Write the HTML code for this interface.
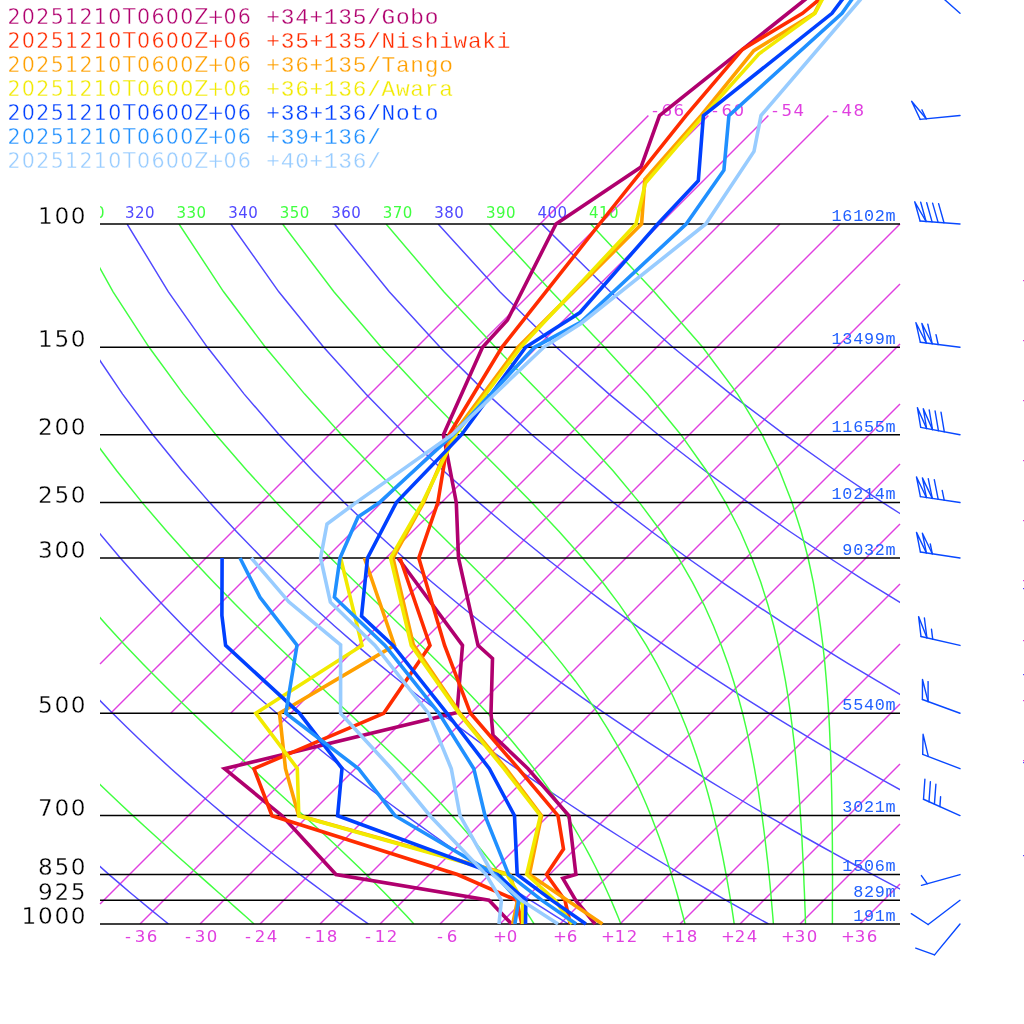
<!DOCTYPE html>
<html lang="en"><head><meta charset="utf-8"><title>Emagram</title>
<style>
html,body{margin:0;padding:0;background:#fff;}
body{width:1024px;height:1024px;overflow:hidden;}
svg{display:block;}
text{text-anchor:middle;}
.leg{font-family:"DejaVu Sans","Liberation Sans",sans-serif;font-size:20.6px;stroke:#fff;stroke-width:0.4px;}
.tl{font-family:"DejaVu Sans","Liberation Sans",sans-serif;font-size:16.6px;fill:#e040e0;}
.lg2{font-family:"Liberation Mono","DejaVu Sans Mono",monospace;font-size:22.8px;stroke:#fff;stroke-width:0.3px;}
.hl{font-family:"Liberation Mono","DejaVu Sans Mono",monospace;font-size:16.8px;fill:#2060ff;}
.pl{font-family:"DejaVu Sans","Liberation Sans",sans-serif;font-size:23.2px;fill:#000;stroke:#fff;stroke-width:0.35px;}
.th{font-family:"DejaVu Sans","Liberation Sans",sans-serif;font-size:15px;}
.bg{fill:none;stroke-width:1.45;}
.pr{fill:none;stroke-width:3.6;stroke-linejoin:miter;stroke-linecap:butt;}
.wb{fill:none;stroke:#0848ff;stroke-width:1.4;stroke-linejoin:round;stroke-linecap:round;}
</style></head><body>
<svg width="1024" height="1024" viewBox="0 0 1024 1024">
<defs><clipPath id="cp"><rect x="100" y="224" width="800" height="700"/></clipPath><clipPath id="cx"><rect x="100" y="0" width="800" height="1024"/></clipPath></defs>
<g class="bg" stroke="#e040e0">
<line x1="100.0" y1="904.0" x2="780.0" y2="224.0"/>
<line x1="140.0" y1="924.0" x2="840.0" y2="224.0"/>
<line x1="200.0" y1="924.0" x2="900.0" y2="224.0"/>
<line x1="260.0" y1="924.0" x2="900.0" y2="284.0"/>
<line x1="320.0" y1="924.0" x2="900.0" y2="344.0"/>
<line x1="380.0" y1="924.0" x2="900.0" y2="404.0"/>
<line x1="440.0" y1="924.0" x2="900.0" y2="464.0"/>
<line x1="500.0" y1="924.0" x2="900.0" y2="524.0"/>
<line x1="560.0" y1="924.0" x2="900.0" y2="584.0"/>
<line x1="620.0" y1="924.0" x2="900.0" y2="644.0"/>
<line x1="680.0" y1="924.0" x2="900.0" y2="704.0"/>
<line x1="740.0" y1="924.0" x2="900.0" y2="764.0"/>
<line x1="800.0" y1="924.0" x2="900.0" y2="824.0"/>
<line x1="860.0" y1="924.0" x2="900.0" y2="884.0"/>
<line x1="100.0" y1="664.0" x2="648.4" y2="115.6"/>
<line x1="110.7" y1="713.3" x2="708.4" y2="115.6"/>
<line x1="170.7" y1="713.3" x2="768.4" y2="115.6"/>
<line x1="230.7" y1="713.3" x2="828.4" y2="115.6"/>
</g>
<g class="bg" clip-path="url(#cp)">
<polyline stroke="#5048ff" points="-287.5,224.0 -273.6,291.8 -258.2,347.3 -242.2,394.1 -226.1,434.7 -210.1,470.5 -194.3,502.6 -178.7,531.5 -163.4,558.0 -148.4,582.3 -133.7,604.8 -119.3,625.8 -105.2,645.4 -91.4,663.9 -77.8,681.2 -64.6,697.7 -51.5,713.3 -38.8,728.1 -26.2,742.3 -13.9,755.8 -1.8,768.7 10.1,781.1 21.8,793.0 33.3,804.5 44.6,815.6 55.8,826.2 66.8,836.5 77.6,846.5 88.3,856.2 98.8,865.5 109.1,874.6 119.4,883.4 129.4,892.0 139.4,900.3 149.2,908.4 158.9,916.3 168.5,924.0"/>
<polyline stroke="#40ff40" points="-235.7,224.0 -218.3,291.8 -200.0,347.3 -181.4,394.1 -163.0,434.7 -144.8,470.5 -127.0,502.6 -109.5,531.5 -92.5,558.0 -75.9,582.3 -59.6,604.8 -43.8,625.8 -28.3,645.4 -13.1,663.9 1.7,681.2 16.1,697.7 30.3,713.3 44.1,728.1 57.7,742.3 70.9,755.8 83.9,768.7 96.5,781.1 108.9,793.0 121.0,804.5 132.9,815.6 144.5,826.2 155.8,836.5 166.8,846.5 177.6,856.2 188.1,865.5 198.3,874.6 208.2,883.4 217.9,892.0 227.4,900.3 236.5,908.4 245.5,916.3 254.1,924.0"/>
<polyline stroke="#5048ff" points="-183.9,224.0 -163.1,291.8 -141.8,347.3 -120.6,394.1 -99.8,434.7 -79.4,470.5 -59.6,502.6 -40.3,531.5 -21.6,558.0 -3.3,582.3 14.5,604.8 31.9,625.8 48.8,645.4 65.3,663.9 81.4,681.2 97.1,697.7 112.6,713.3 127.6,728.1 142.4,742.3 156.9,755.8 171.1,768.7 185.0,781.1 198.7,793.0 212.1,804.5 225.3,815.6 238.3,826.2 251.0,836.5 263.6,846.5 275.9,856.2 288.1,865.5 300.1,874.6 311.9,883.4 323.5,892.0 335.0,900.3 346.3,908.4 357.5,916.3 368.5,924.0"/>
<polyline stroke="#40ff40" points="-132.0,224.0 -107.8,291.8 -83.6,347.3 -59.8,394.1 -36.6,434.7 -14.1,470.5 7.7,502.6 28.8,531.5 49.3,558.0 69.2,582.3 88.5,604.8 107.2,625.8 125.3,645.4 143.0,663.9 160.1,681.2 176.7,697.7 192.8,713.3 208.4,728.1 223.5,742.3 238.1,755.8 252.2,768.7 265.8,781.1 278.9,793.0 291.5,804.5 303.6,815.6 315.3,826.2 326.4,836.5 337.1,846.5 347.3,856.2 357.0,865.5 366.3,874.6 375.2,883.4 383.7,892.0 391.8,900.3 399.5,908.4 406.9,916.3 413.9,924.0"/>
<polyline stroke="#5048ff" points="-80.2,224.0 -52.6,291.8 -25.4,347.3 1.0,394.1 26.6,434.7 51.2,470.5 75.0,502.6 98.0,531.5 120.3,558.0 141.8,582.3 162.7,604.8 183.0,625.8 202.7,645.4 221.9,663.9 240.6,681.2 258.9,697.7 276.7,713.3 294.0,728.1 311.0,742.3 327.7,755.8 343.9,768.7 359.9,781.1 375.5,793.0 390.9,804.5 405.9,815.6 420.7,826.2 435.2,836.5 449.5,846.5 463.6,856.2 477.4,865.5 491.0,874.6 504.4,883.4 517.6,892.0 530.6,900.3 543.4,908.4 556.0,916.3 568.5,924.0"/>
<polyline stroke="#40ff40" points="-28.4,224.0 2.6,291.8 32.8,347.3 61.8,394.1 89.7,434.7 116.5,470.5 142.2,502.6 167.0,531.5 190.8,558.0 213.7,582.3 235.7,604.8 256.8,625.8 277.0,645.4 296.4,663.9 314.8,681.2 332.4,697.7 349.1,713.3 364.8,728.1 379.7,742.3 393.7,755.8 406.9,768.7 419.3,781.1 430.9,793.0 441.8,804.5 451.9,815.6 461.4,826.2 470.3,836.5 478.6,846.5 486.4,856.2 493.8,865.5 500.6,874.6 507.1,883.4 513.1,892.0 518.8,900.3 524.2,908.4 529.3,916.3 534.1,924.0"/>
<polyline stroke="#5048ff" points="23.5,224.0 57.9,291.8 91.0,347.3 122.6,394.1 152.9,434.7 181.9,470.5 209.7,502.6 236.4,531.5 262.1,558.0 287.0,582.3 311.0,604.8 334.2,625.8 356.7,645.4 378.6,663.9 399.9,681.2 420.6,697.7 440.8,713.3 460.4,728.1 479.7,742.3 498.4,755.8 516.8,768.7 534.8,781.1 552.4,793.0 569.7,804.5 586.6,815.6 603.2,826.2 619.5,836.5 635.5,846.5 651.2,856.2 666.7,865.5 681.9,874.6 696.9,883.4 711.7,892.0 726.2,900.3 740.5,908.4 754.6,916.3 768.5,924.0"/>
<polyline stroke="#40ff40" points="75.3,224.0 113.1,291.8 149.1,347.3 183.4,394.1 215.9,434.7 246.9,470.5 276.3,502.6 304.2,531.5 330.6,558.0 355.5,582.3 378.9,604.8 400.8,625.8 421.1,645.4 439.9,663.9 457.2,681.2 473.1,697.7 487.6,713.3 500.9,728.1 513.0,742.3 524.0,755.8 534.1,768.7 543.3,781.1 551.7,793.0 559.5,804.5 566.6,815.6 573.1,826.2 579.2,836.5 584.8,846.5 590.0,856.2 594.8,865.5 599.3,874.6 603.5,883.4 607.4,892.0 611.1,900.3 614.5,908.4 617.8,916.3 620.9,924.0"/>
<polyline stroke="#5048ff" points="127.1,224.0 168.4,291.8 207.4,347.3 244.2,394.1 279.2,434.7 312.5,470.5 344.3,502.6 374.8,531.5 404.0,558.0 432.1,582.3 459.2,604.8 485.4,625.8 510.7,645.4 535.3,663.9 559.1,681.2 582.3,697.7 604.9,713.3 626.9,728.1 648.3,742.3 669.2,755.8 689.7,768.7 709.7,781.1 729.3,793.0 748.4,804.5 767.2,815.6 785.6,826.2 803.7,836.5 821.5,846.5 838.9,856.2 856.0,865.5 872.9,874.6 889.4,883.4 905.7,892.0 921.8,900.3 937.6,908.4 953.2,916.3 968.5,924.0"/>
<polyline stroke="#40ff40" points="179.0,224.0 223.6,291.8 265.4,347.3 304.7,394.1 341.5,434.7 375.9,470.5 407.9,502.6 437.3,531.5 464.2,558.0 488.5,582.3 510.3,604.8 529.7,625.8 546.9,645.4 562.1,663.9 575.5,681.2 587.4,697.7 597.9,713.3 607.2,728.1 615.6,742.3 623.1,755.8 629.8,768.7 635.8,781.1 641.3,793.0 646.3,804.5 650.9,815.6 655.0,826.2 658.9,836.5 662.4,846.5 665.7,856.2 668.7,865.5 671.5,874.6 674.1,883.4 676.6,892.0 678.9,900.3 681.0,908.4 683.1,916.3 685.0,924.0"/>
<polyline stroke="#5048ff" points="230.8,224.0 278.8,291.8 323.7,347.3 365.9,394.1 405.6,434.7 443.2,470.5 479.0,502.6 513.1,531.5 545.8,558.0 577.2,582.3 607.4,604.8 636.5,625.8 664.7,645.4 691.9,663.9 718.4,681.2 744.0,697.7 769.0,713.3 793.3,728.1 816.9,742.3 840.0,755.8 862.5,768.7 884.6,781.1 906.1,793.0 927.2,804.5 947.9,815.6 968.1,826.2 988.0,836.5 1007.4,846.5 1026.6,856.2 1045.3,865.5 1063.8,874.6 1082.0,883.4 1099.8,892.0 1117.4,900.3 1134.7,908.4 1151.7,916.3 1168.5,924.0"/>
<polyline stroke="#40ff40" points="282.6,224.0 333.9,291.8 381.3,347.3 424.9,394.1 464.6,434.7 500.3,470.5 531.8,502.6 559.1,531.5 582.6,558.0 602.6,582.3 619.6,604.8 634.0,625.8 646.3,645.4 656.8,663.9 665.8,681.2 673.7,697.7 680.5,713.3 686.5,728.1 691.8,742.3 696.5,755.8 700.7,768.7 704.4,781.1 707.8,793.0 710.9,804.5 713.6,815.6 716.2,826.2 718.5,836.5 720.6,846.5 722.6,856.2 724.4,865.5 726.1,874.6 727.7,883.4 729.2,892.0 730.6,900.3 731.9,908.4 733.1,916.3 734.2,924.0"/>
<polyline stroke="#5048ff" points="334.5,224.0 389.3,291.8 440.1,347.3 487.5,394.1 531.9,434.7 573.9,470.5 613.6,502.6 651.5,531.5 687.6,558.0 722.3,582.3 755.6,604.8 787.7,625.8 818.7,645.4 848.6,663.9 877.6,681.2 905.7,697.7 933.1,713.3 959.7,728.1 985.5,742.3 1010.8,755.8 1035.4,768.7 1059.5,781.1 1083.0,793.0 1106.0,804.5 1128.5,815.6 1150.6,826.2 1172.2,836.5 1193.4,846.5 1214.2,856.2 1234.7,865.5 1254.7,874.6 1274.5,883.4 1293.9,892.0 1313.0,900.3 1331.8,908.4 1350.3,916.3 1368.5,924.0"/>
<polyline stroke="#40ff40" points="386.1,224.0 443.8,291.8 495.5,347.3 541.1,394.1 580.2,434.7 612.8,470.5 639.5,502.6 661.0,531.5 678.4,558.0 692.5,582.3 704.0,604.8 713.4,625.8 721.3,645.4 728.0,663.9 733.6,681.2 738.4,697.7 742.6,713.3 746.2,728.1 749.3,742.3 752.1,755.8 754.5,768.7 756.7,781.1 758.7,793.0 760.4,804.5 762.0,815.6 763.4,826.2 764.7,836.5 765.9,846.5 767.0,856.2 768.1,865.5 769.0,874.6 769.9,883.4 770.7,892.0 771.4,900.3 772.1,908.4 772.8,916.3 773.4,924.0"/>
<polyline stroke="#5048ff" points="438.1,224.0 499.8,291.8 556.5,347.3 609.1,394.1 658.3,434.7 704.5,470.5 748.3,502.6 789.8,531.5 829.5,558.0 867.4,582.3 903.8,604.8 938.9,625.8 972.6,645.4 1005.3,663.9 1036.8,681.2 1067.5,697.7 1097.2,713.3 1126.1,728.1 1154.2,742.3 1181.6,755.8 1208.3,768.7 1234.4,781.1 1259.8,793.0 1284.8,804.5 1309.1,815.6 1333.0,826.2 1356.4,836.5 1379.4,846.5 1401.9,856.2 1424.0,865.5 1445.7,874.6 1467.0,883.4 1488.0,892.0 1508.6,900.3 1528.9,908.4 1548.8,916.3 1568.5,924.0"/>
<polyline stroke="#40ff40" points="489.2,224.0 551.7,291.8 604.6,347.3 647.5,394.1 680.9,434.7 706.3,470.5 725.6,502.6 740.4,531.5 751.8,558.0 760.8,582.3 767.9,604.8 773.7,625.8 778.4,645.4 782.2,663.9 785.5,681.2 788.2,697.7 790.5,713.3 792.4,728.1 794.1,742.3 795.6,755.8 796.8,768.7 797.9,781.1 798.9,793.0 799.8,804.5 800.5,815.6 801.2,826.2 801.8,836.5 802.3,846.5 802.8,856.2 803.3,865.5 803.7,874.6 804.0,883.4 804.4,892.0 804.7,900.3 805.0,908.4 805.3,916.3 805.5,924.0"/>
<polyline stroke="#5048ff" points="541.8,224.0 610.3,291.8 672.9,347.3 730.7,394.1 784.6,434.7 835.2,470.5 882.9,502.6 928.2,531.5 971.3,558.0 1012.5,582.3 1052.1,604.8 1090.0,625.8 1126.6,645.4 1161.9,663.9 1196.1,681.2 1229.2,697.7 1261.3,713.3 1292.5,728.1 1322.8,742.3 1352.3,755.8 1381.2,768.7 1409.3,781.1 1436.7,793.0 1463.5,804.5 1489.8,815.6 1515.5,826.2 1540.7,836.5 1565.3,846.5 1589.5,856.2 1613.3,865.5 1636.6,874.6 1659.5,883.4 1682.0,892.0 1704.2,900.3 1726.0,908.4 1747.4,916.3 1768.5,924.0"/>
<polyline stroke="#40ff40" points="590.7,224.0 654.2,291.8 702.7,347.3 737.6,394.1 762.1,434.7 779.5,470.5 792.0,502.6 801.2,531.5 808.1,558.0 813.3,582.3 817.3,604.8 820.4,625.8 822.9,645.4 824.9,663.9 826.4,681.2 827.7,697.7 828.7,713.3 829.5,728.1 830.1,742.3 830.7,755.8 831.1,768.7 831.4,781.1 831.7,793.0 831.9,804.5 832.1,815.6 832.2,826.2 832.3,836.5 832.4,846.5 832.4,856.2 832.4,865.5 832.5,874.6 832.5,883.4 832.5,892.0 832.4,900.3 832.4,908.4 832.4,916.3 832.4,924.0"/>
</g>
<g stroke="#000" stroke-width="1.5">
<line x1="100" x2="900" y1="224.00" y2="224.00"/>
<line x1="100" x2="900" y1="347.26" y2="347.26"/>
<line x1="100" x2="900" y1="434.72" y2="434.72"/>
<line x1="100" x2="900" y1="502.56" y2="502.56"/>
<line x1="100" x2="900" y1="557.98" y2="557.98"/>
<line x1="100" x2="900" y1="713.28" y2="713.28"/>
<line x1="100" x2="900" y1="815.57" y2="815.57"/>
<line x1="100" x2="900" y1="874.59" y2="874.59"/>
<line x1="100" x2="900" y1="900.30" y2="900.30"/>
<line x1="100" x2="900" y1="924.00" y2="924.00"/>
</g>
<g clip-path="url(#cx)">
<text class="th" x="79.7 89.7 99.7" y="218.4" fill="#40ff40">310</text>
<text class="th" x="129.7 139.7 149.7" y="218.4" fill="#5048ff">320</text>
<text class="th" x="181.3 191.3 201.3" y="218.4" fill="#40ff40">330</text>
<text class="th" x="232.9 242.9 252.9" y="218.4" fill="#5048ff">340</text>
<text class="th" x="284.4 294.4 304.4" y="218.4" fill="#40ff40">350</text>
<text class="th" x="336.0 346.0 356.0" y="218.4" fill="#5048ff">360</text>
<text class="th" x="387.5 397.5 407.5" y="218.4" fill="#40ff40">370</text>
<text class="th" x="439.1 449.1 459.1" y="218.4" fill="#5048ff">380</text>
<text class="th" x="490.7 500.7 510.7" y="218.4" fill="#40ff40">390</text>
<text class="th" x="542.2 552.2 562.2" y="218.4" fill="#5048ff">400</text>
<text class="th" x="593.8 603.8 613.8" y="218.4" fill="#40ff40">410</text>
</g>
<text class="tl" x="128.0 140.0 152.0" y="942.4">-36</text>
<text class="tl" x="188.0 200.0 212.0" y="942.4">-30</text>
<text class="tl" x="248.0 260.0 272.0" y="942.4">-24</text>
<text class="tl" x="308.0 320.0 332.0" y="942.4">-18</text>
<text class="tl" x="368.0 380.0 392.0" y="942.4">-12</text>
<text class="tl" x="440.0 452.0" y="942.4">-6</text>
<text class="tl" x="500.0 512.0" y="942.4">+0</text>
<text class="tl" x="560.0 572.0" y="942.4">+6</text>
<text class="tl" x="608.0 620.0 632.0" y="942.4">+12</text>
<text class="tl" x="668.0 680.0 692.0" y="942.4">+18</text>
<text class="tl" x="728.0 740.0 752.0" y="942.4">+24</text>
<text class="tl" x="788.0 800.0 812.0" y="942.4">+30</text>
<text class="tl" x="848.0 860.0 872.0" y="942.4">+36</text>
<text class="tl" x="654.9 666.9 678.9" y="115.8">-66</text>
<text class="tl" x="714.9 726.9 738.9" y="115.8">-60</text>
<text class="tl" x="774.9 786.9 798.9" y="115.8">-54</text>
<text class="tl" x="834.9 846.9 858.9" y="115.8">-48</text>
<rect x="1023" y="280" width="1" height="1.2" fill="#e040e0"/>
<rect x="1023" y="340" width="1" height="1.2" fill="#e040e0"/>
<rect x="1023" y="400" width="1" height="1.2" fill="#e040e0"/>
<rect x="1023" y="460" width="1" height="1.2" fill="#e040e0"/>
<rect x="1023" y="520" width="1" height="1.2" fill="#e040e0"/>
<rect x="1023" y="580" width="1" height="1.2" fill="#e040e0"/>
<rect x="1023" y="640" width="1" height="1.2" fill="#e040e0"/>
<rect x="1023" y="700" width="1" height="1.2" fill="#e040e0"/>
<rect x="1023" y="760" width="1" height="1.2" fill="#e040e0"/>
<rect x="1023" y="588" width="1" height="1.2" fill="#5048ff"/>
<rect x="1023" y="674" width="1" height="1.2" fill="#5048ff"/>
<rect x="1023" y="762" width="1" height="1.2" fill="#5048ff"/>
<rect x="1023" y="855" width="1" height="1.2" fill="#5048ff"/>
<polyline class="pr" stroke="#b0006e" points="821.0,-13.0 804.5,0.0 659.5,115.6 641.0,167.0 556.0,224.0 507.5,320.0 482.5,347.3 443.4,434.7 456.3,502.6 458.5,558.0 478.0,645.4 492.5,658.5 491.0,713.3 493.0,735.4 528.0,768.7 569.0,815.7 575.9,874.4 562.8,878.3 575.8,900.4 595.2,924.0"/>
<polyline class="pr" stroke="#b0006e" points="398.0,558.0 462.5,645.4 457.0,712.5 224.5,768.7 282.0,815.7 336.0,874.5 489.0,900.3 511.6,924.0"/>
<polyline class="pr" stroke="#ff2c00" points="834.0,-13.0 818.5,0.0 802.5,13.3 742.5,49.4 686.0,115.6 599.5,224.0 501.9,347.3 449.0,434.7 437.8,502.6 418.8,558.0 444.6,645.4 470.5,713.3 518.5,768.7 558.0,815.7 563.5,849.0 546.5,874.5 565.0,900.4 570.3,924.0"/>
<polyline class="pr" stroke="#ff2c00" points="400.0,558.0 430.0,645.4 383.7,713.3 254.0,768.7 272.0,815.7 457.5,874.5 516.8,900.4 521.8,924.0"/>
<polyline class="pr" stroke="#ffa000" points="828.0,-13.0 821.4,0.0 814.5,13.3 753.8,50.6 701.0,115.6 644.8,179.5 641.6,224.0 518.0,347.3 453.0,434.7 423.5,502.6 393.0,558.0 413.4,644.8 460.0,713.3 506.0,768.7 541.5,815.7 529.4,874.5 567.6,900.4 602.4,924.0"/>
<polyline class="pr" stroke="#ffa000" points="364.4,558.0 394.5,645.4 279.5,713.3 285.5,768.7 298.6,815.5 510.0,874.5 517.5,900.4 512.7,924.0"/>
<polyline class="pr" stroke="#f2ea00" points="829.0,-13.0 822.0,0.0 815.0,13.3 759.0,53.8 703.5,115.6 645.4,183.2 636.0,224.0 520.6,347.3 455.5,434.7 422.5,502.6 390.6,558.0 411.3,645.4 459.0,713.3 504.0,768.7 540.4,815.7 526.7,874.5 555.3,900.4 572.0,924.0"/>
<polyline class="pr" stroke="#f2ea00" points="340.6,558.0 362.0,645.4 255.8,713.3 297.3,768.4 298.8,815.8 507.0,874.5 522.4,900.4 522.7,924.0"/>
<polyline class="pr" stroke="#0040ff" points="852.0,-13.0 842.0,0.0 832.0,13.3 703.4,115.6 698.3,180.8 657.7,224.0 580.0,312.5 525.6,347.3 461.5,434.7 396.3,502.6 367.5,558.0 361.5,616.0 393.0,645.4 447.0,713.3 489.4,768.7 514.5,815.7 517.2,874.5 552.0,900.4 585.9,924.0"/>
<polyline class="pr" stroke="#0040ff" points="222.1,558.0 221.9,615.5 225.6,645.4 299.5,713.3 342.0,768.4 337.6,815.7 497.5,874.5 525.8,900.4 525.5,924.0"/>
<polyline class="pr" stroke="#2090ff" points="861.0,-13.0 851.5,0.0 842.0,13.3 728.9,115.6 723.9,170.2 686.2,224.0 581.0,322.0 534.4,347.3 453.0,434.7 379.4,502.6 358.0,517.0 340.0,558.0 334.4,597.2 385.0,645.4 439.0,713.3 473.8,768.7 485.0,815.7 508.6,874.5 542.0,900.4 576.2,924.0"/>
<polyline class="pr" stroke="#2090ff" points="240.0,558.0 260.0,597.4 297.0,645.2 285.8,713.3 358.6,768.7 395.0,815.7 495.0,874.5 518.6,900.4 514.9,924.0"/>
<polyline class="pr" stroke="#98ccff" points="871.0,-13.0 860.0,0.0 761.0,115.6 754.0,151.4 705.8,224.0 581.0,323.5 543.7,347.3 452.0,434.7 356.0,502.6 327.0,524.0 320.6,558.0 330.4,602.2 375.0,645.4 428.6,713.3 451.3,768.7 460.0,815.7 493.0,874.5 521.5,900.4 558.0,924.0"/>
<polyline class="pr" stroke="#98ccff" points="251.3,558.0 288.8,601.8 340.6,644.8 340.6,713.3 391.5,768.7 430.0,815.7 486.0,874.5 501.4,900.4 499.0,924.0"/>
<text class="pl" x="45.4 61.8 78.2" y="224.1">100</text>
<text class="pl" x="45.4 61.8 78.2" y="347.4">150</text>
<text class="pl" x="45.4 61.8 78.2" y="434.8">200</text>
<text class="pl" x="45.4 61.8 78.2" y="502.7">250</text>
<text class="pl" x="45.4 61.8 78.2" y="558.1">300</text>
<text class="pl" x="45.4 61.8 78.2" y="713.4">500</text>
<text class="pl" x="45.4 61.8 78.2" y="815.7">700</text>
<text class="pl" x="45.4 61.8 78.2" y="874.7">850</text>
<text class="pl" x="45.4 61.8 78.2" y="900.4">925</text>
<text class="pl" x="29.0 45.4 61.8 78.2" y="924.1">1000</text>
<text class="hl" x="836.6 847.4 858.2 869.0 879.8 890.6" y="220.8">16102m</text>
<text class="hl" x="836.6 847.4 858.2 869.0 879.8 890.6" y="344.1">13499m</text>
<text class="hl" x="836.6 847.4 858.2 869.0 879.8 890.6" y="431.5">11655m</text>
<text class="hl" x="836.6 847.4 858.2 869.0 879.8 890.6" y="499.4">10214m</text>
<text class="hl" x="847.4 858.2 869.0 879.8 890.6" y="554.8">9032m</text>
<text class="hl" x="847.4 858.2 869.0 879.8 890.6" y="710.1">5540m</text>
<text class="hl" x="847.4 858.2 869.0 879.8 890.6" y="812.4">3021m</text>
<text class="hl" x="847.4 858.2 869.0 879.8 890.6" y="871.4">1506m</text>
<text class="hl" x="858.2 869.0 879.8 890.6" y="897.1">829m</text>
<text class="hl" x="858.2 869.0 879.8 890.6" y="920.8">191m</text>
<text class="leg" x="14.0 28.4 42.8 57.2 71.6 86.0 100.4 114.8 129.2 143.6 158.0 172.4 186.8 201.2 215.6 230.0 244.4" y="24.0" fill="#b0006e">20251210T0600Z+06</text>
<text class="lg2" x="273.2 287.6 302.0 316.4 330.8 345.2 359.6 374.0 388.4 402.8 417.2 431.6" y="24.0" fill="#b0006e">+34+135/Gobo</text>
<text class="leg" x="14.0 28.4 42.8 57.2 71.6 86.0 100.4 114.8 129.2 143.6 158.0 172.4 186.8 201.2 215.6 230.0 244.4" y="48.0" fill="#ff2c00">20251210T0600Z+06</text>
<text class="lg2" x="273.2 287.6 302.0 316.4 330.8 345.2 359.6 374.0 388.4 402.8 417.2 431.6 446.0 460.4 474.8 489.2 503.6" y="48.0" fill="#ff2c00">+35+135/Nishiwaki</text>
<text class="leg" x="14.0 28.4 42.8 57.2 71.6 86.0 100.4 114.8 129.2 143.6 158.0 172.4 186.8 201.2 215.6 230.0 244.4" y="72.0" fill="#ffa000">20251210T0600Z+06</text>
<text class="lg2" x="273.2 287.6 302.0 316.4 330.8 345.2 359.6 374.0 388.4 402.8 417.2 431.6 446.0" y="72.0" fill="#ffa000">+36+135/Tango</text>
<text class="leg" x="14.0 28.4 42.8 57.2 71.6 86.0 100.4 114.8 129.2 143.6 158.0 172.4 186.8 201.2 215.6 230.0 244.4" y="96.0" fill="#f2ea00">20251210T0600Z+06</text>
<text class="lg2" x="273.2 287.6 302.0 316.4 330.8 345.2 359.6 374.0 388.4 402.8 417.2 431.6 446.0" y="96.0" fill="#f2ea00">+36+136/Awara</text>
<text class="leg" x="14.0 28.4 42.8 57.2 71.6 86.0 100.4 114.8 129.2 143.6 158.0 172.4 186.8 201.2 215.6 230.0 244.4" y="120.0" fill="#0040ff">20251210T0600Z+06</text>
<text class="lg2" x="273.2 287.6 302.0 316.4 330.8 345.2 359.6 374.0 388.4 402.8 417.2 431.6" y="120.0" fill="#0040ff">+38+136/Noto</text>
<text class="leg" x="14.0 28.4 42.8 57.2 71.6 86.0 100.4 114.8 129.2 143.6 158.0 172.4 186.8 201.2 215.6 230.0 244.4" y="144.0" fill="#2090ff">20251210T0600Z+06</text>
<text class="lg2" x="273.2 287.6 302.0 316.4 330.8 345.2 359.6 374.0" y="144.0" fill="#2090ff">+39+136/</text>
<text class="leg" x="14.0 28.4 42.8 57.2 71.6 86.0 100.4 114.8 129.2 143.6 158.0 172.4 186.8 201.2 215.6 230.0 244.4" y="168.0" fill="#98ccff">20251210T0600Z+06</text>
<text class="lg2" x="273.2 287.6 302.0 316.4 330.8 345.2 359.6 374.0" y="168.0" fill="#98ccff">+40+136/</text>
<g class="wb">
<line x1="960.00" y1="13.28" x2="930.09" y2="-13.28"/>
<line x1="960.00" y1="115.57" x2="920.18" y2="119.39"/>
<polyline points="920.2,119.4 911.6,101.3 926.2,118.8"/>
<polyline points="926.2,118.8 921.9,109.8"/>
<line x1="960.00" y1="224.00" x2="920.11" y2="221.02"/>
<polyline points="920.1,221.0 914.7,201.8 926.1,221.5"/>
<polyline points="926.1,221.5 920.7,202.2"/>
<polyline points="932.1,221.9 926.7,202.7"/>
<polyline points="938.1,222.4 932.6,203.1"/>
<polyline points="944.0,222.8 938.6,203.6"/>
<line x1="960.00" y1="347.26" x2="920.32" y2="342.23"/>
<polyline points="920.3,342.2 915.9,322.7 926.3,343.0"/>
<polyline points="926.3,343.0 921.9,323.5 932.2,343.7"/>
<polyline points="932.2,343.7 927.8,324.2"/>
<polyline points="938.2,344.5 936.0,334.7"/>
<line x1="960.00" y1="434.72" x2="920.67" y2="427.41"/>
<polyline points="920.7,427.4 917.4,407.7 926.6,428.5"/>
<polyline points="926.6,428.5 923.3,408.8 932.5,429.6"/>
<polyline points="932.5,429.6 929.2,409.9"/>
<polyline points="938.4,430.7 935.1,411.0"/>
<polyline points="944.3,431.8 941.0,412.1"/>
<line x1="960.00" y1="502.56" x2="920.44" y2="496.63"/>
<polyline points="920.4,496.6 916.5,477.0 926.4,497.5"/>
<polyline points="926.4,497.5 922.4,477.9 932.3,498.4"/>
<polyline points="932.3,498.4 928.3,478.8"/>
<polyline points="938.2,499.3 934.3,479.7"/>
<polyline points="944.2,500.2 942.2,490.4"/>
<line x1="960.00" y1="557.98" x2="920.45" y2="552.03"/>
<polyline points="920.4,552.0 916.5,532.4 926.4,552.9"/>
<polyline points="926.4,552.9 922.4,533.3 932.3,553.8"/>
<polyline points="932.3,553.8 930.3,544.0"/>
<line x1="960.00" y1="645.44" x2="921.01" y2="636.49"/>
<polyline points="921.0,636.5 918.6,616.6 926.9,637.8"/>
<polyline points="926.9,637.8 924.4,618.0"/>
<polyline points="932.7,639.2 931.5,629.3"/>
<line x1="960.00" y1="713.28" x2="922.44" y2="699.52"/>
<polyline points="922.4,699.5 922.5,679.5 928.1,701.6"/>
<polyline points="928.1,701.6 928.1,681.6"/>
<line x1="960.00" y1="768.71" x2="922.69" y2="754.28"/>
<polyline points="922.7,754.3 923.1,734.3 928.3,756.4"/>
<line x1="960.00" y1="815.57" x2="923.48" y2="799.24"/>
<polyline points="923.5,799.2 924.9,779.3"/>
<polyline points="929.0,801.7 930.4,781.7"/>
<polyline points="934.4,804.1 935.9,784.2"/>
<polyline points="939.9,806.6 940.6,796.6"/>
<line x1="960.00" y1="874.59" x2="921.47" y2="885.33"/>
<polyline points="927.2,883.7 921.4,875.6"/>
<line x1="960.00" y1="900.30" x2="928.14" y2="924.48"/>
<polyline points="928.1,924.5 911.3,913.7"/>
<line x1="960.00" y1="924.00" x2="934.53" y2="954.84"/>
<polyline points="934.5,954.8 915.7,948.1"/>
</g>
</svg></body></html>
